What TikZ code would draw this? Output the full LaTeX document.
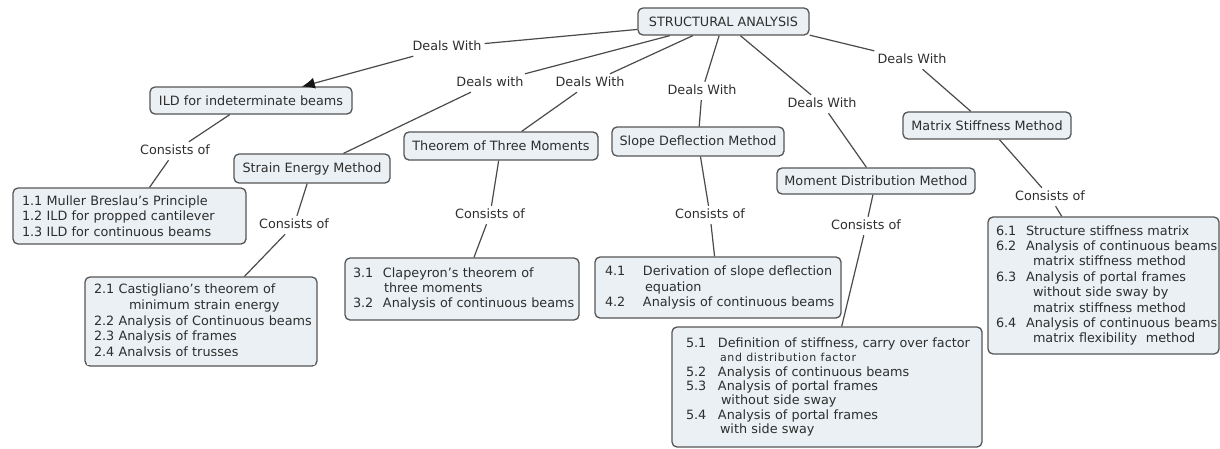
\documentclass[tikz,border=0pt]{standalone}
\usepackage{fontspec}
\setmainfont{DejaVu Sans}
\newfontfamily\smallwide{DejaVu Sans}[LetterSpace=6]
\usetikzlibrary{arrows.meta}
\definecolor{boxfill}{HTML}{EAF0F4}
\definecolor{boxline}{HTML}{555555}
\definecolor{txt}{HTML}{2E2E2E}
\definecolor{lnk}{HTML}{4A4A4A}
\definecolor{tipc}{HTML}{151515}
\newcommand\lnx[1]{\mbox{#1}}
\newcommand\nb[2]{\makebox[#1][l]{#2}}
\begin{document}
\begin{tikzpicture}[x=1pt,y=-1pt,
  concept/.style={draw=boxline, fill=boxfill, line width=1.3pt, rounded corners=5pt,
    text=txt, font=\fontsize{12.8}{15.4}\selectfont, inner sep=0pt},
  listbox/.style={concept, align=left, inner ysep=2pt},
  lbl/.style={text=txt, font=\fontsize{12.8}{15}\selectfont, inner xsep=3pt, inner ysep=3pt,
    text height=9.5pt, text depth=2.5pt},
  link/.style={draw=lnk, line width=1.2pt},
  tip/.style={-{Latex[length=13pt,width=11pt,color=tipc]}, shorten >=-1pt}
]
\useasboundingbox (0,0) rectangle (1220,448);

% main concepts
\node[concept, minimum width=171pt, minimum height=27pt] (root) at (723.5,21.5) {STRUCTURAL ANALYSIS};
\node[concept, minimum width=202pt, minimum height=27pt] (ild) at (251,100.5) {ILD for indeterminate beams};
\node[concept, minimum width=156pt, minimum height=29pt] (sem) at (312,168.5) {Strain Energy Method};
\node[concept, minimum width=194pt, minimum height=28pt] (ttm) at (501,146) {Theorem of Three Moments};
\node[concept, minimum width=172pt, minimum height=29pt] (sdm) at (698,141.5) {Slope Deflection Method};
\node[concept, minimum width=198pt, minimum height=26pt] (mdm) at (876,181) {Moment Distribution Method};
\node[concept, minimum width=168pt, minimum height=27pt] (msm) at (987,125.5) {Matrix Stiffness Method};

% content boxes
\node[listbox, text width=215pt, inner xsep=9pt, minimum height=56pt] (b1) at (129.5,216) {%
\lnx{1.1 Muller Breslau’s Principle}\\
\lnx{1.2 ILD for propped cantilever}\\
\lnx{1.3 ILD for continuous beams}};

\node[listbox, text width=214pt, inner xsep=9pt, minimum height=89pt,
  font=\fontsize{12.8}{15.7}\selectfont] (b2) at (201,321.5) {%
\lnx{2.1 Castigliano’s theorem of}\\
\lnx{\hspace*{35pt}minimum strain energy}\\
\lnx{2.2 Analysis of Continuous beams}\\
\lnx{2.3 Analysis of frames}\\
\lnx{2.4 Analysis of trusses}};
\fill[boxfill] (87,355.5) rectangle (315,364.6);

\node[listbox, text width=218pt, inner xsep=8pt, minimum height=62pt] (b3) at (462,289) {%
\lnx{\nb{30pt}{3.1}Clapeyron’s theorem of}\\
\lnx{\hspace*{31pt}three moments}\\
\lnx{\nb{30pt}{3.2}Analysis of continuous beams}};

\node[listbox, text width=226pt, inner xsep=10pt, minimum height=61pt] (b4) at (718,287.5) {%
\lnx{\nb{38pt}{4.1}Derivation of slope deflection}\\
\lnx{\hspace*{40pt}equation}\\
\lnx{\nb{38pt}{4.2}Analysis of continuous beams}};

\node[listbox, text width=282pt, inner xsep=14pt, minimum height=120pt,
  font=\fontsize{12.8}{14.3}\selectfont] (b5) at (827,387) {%
\lnx{\nb{32pt}{5.1}Definition of stiffness, carry over factor}\\
\lnx{\hspace*{34pt}{\smallwide\fontsize{11}{14.3}\selectfont and distribution factor}}\\
\lnx{\nb{32pt}{5.2}Analysis of continuous beams}\\
\lnx{\nb{32pt}{5.3}Analysis of portal frames}\\
\lnx{\hspace*{35pt}without side sway}\\
\lnx{\nb{32pt}{5.4}Analysis of portal frames}\\
\lnx{\hspace*{34pt}with side sway}};

\node[listbox, text width=215pt, inner xsep=8pt, minimum height=137pt] (b6) at (1103.5,285.5) {%
\lnx{\nb{30pt}{6.1}Structure stiffness matrix}\\
\lnx{\nb{30pt}{6.2}Analysis of continuous beams}\\
\lnx{\hspace*{37pt}matrix stiffness method}\\
\lnx{\nb{30pt}{6.3}Analysis of portal frames}\\
\lnx{\hspace*{37pt}without side sway by}\\
\lnx{\hspace*{37pt}matrix stiffness method}\\
\lnx{\nb{30pt}{6.4}Analysis of continuous beams}\\
\lnx{\hspace*{37pt}matrix flexibility\ \ method}};

% linking phrases
\node[lbl] (dw1) at (447,47) {Deals With};
\node[lbl] (dw2) at (490,83) {Deals with};
\node[lbl] (dw3) at (590,83) {Deals With};
\node[lbl] (dw4) at (702,91) {Deals With};
\node[lbl] (dw5) at (822,104) {Deals With};
\node[lbl] (dw6) at (912,60) {Deals With};
\node[lbl] (co1) at (175,151) {Consists of};
\node[lbl] (co2) at (294,225) {Consists of};
\node[lbl] (co3) at (490,215) {Consists of};
\node[lbl] (co4) at (710,215) {Consists of};
\node[lbl] (co5) at (866,226) {Consists of};
\node[lbl] (co6) at (1050,197) {Consists of};

% connectors
\draw[link] (root) -- (dw1);
\draw[link, tip] (dw1) -- (ild);
\draw[link] (root) -- (dw2);
\draw[link] (dw2) -- (sem);
\draw[link] (root) -- (dw3);
\draw[link] (dw3) -- (ttm);
\draw[link] (root) -- (dw4);
\draw[link] (dw4) -- (sdm);
\draw[link] (root) -- (dw5);
\draw[link] (dw5) -- (mdm);
\draw[link] (root.-9.8) -- (dw6);
\draw[link] (dw6) -- (msm);

\draw[link] (ild) -- (co1);
\draw[link] (co1) -- (b1);
\draw[link] (sem) -- (co2);
\draw[link] (co2) -- (b2);
\draw[link] (ttm) -- (co3);
\draw[link] (co3) -- (b3);
\draw[link] (sdm) -- (co4);
\draw[link] (co4) -- (b4);
\draw[link] (mdm) -- (co5);
\draw[link] (co5) -- (b5);
\draw[link] (msm) -- (co6);
\draw[link] (co6) -- (b6);
\end{tikzpicture}
\end{document}
